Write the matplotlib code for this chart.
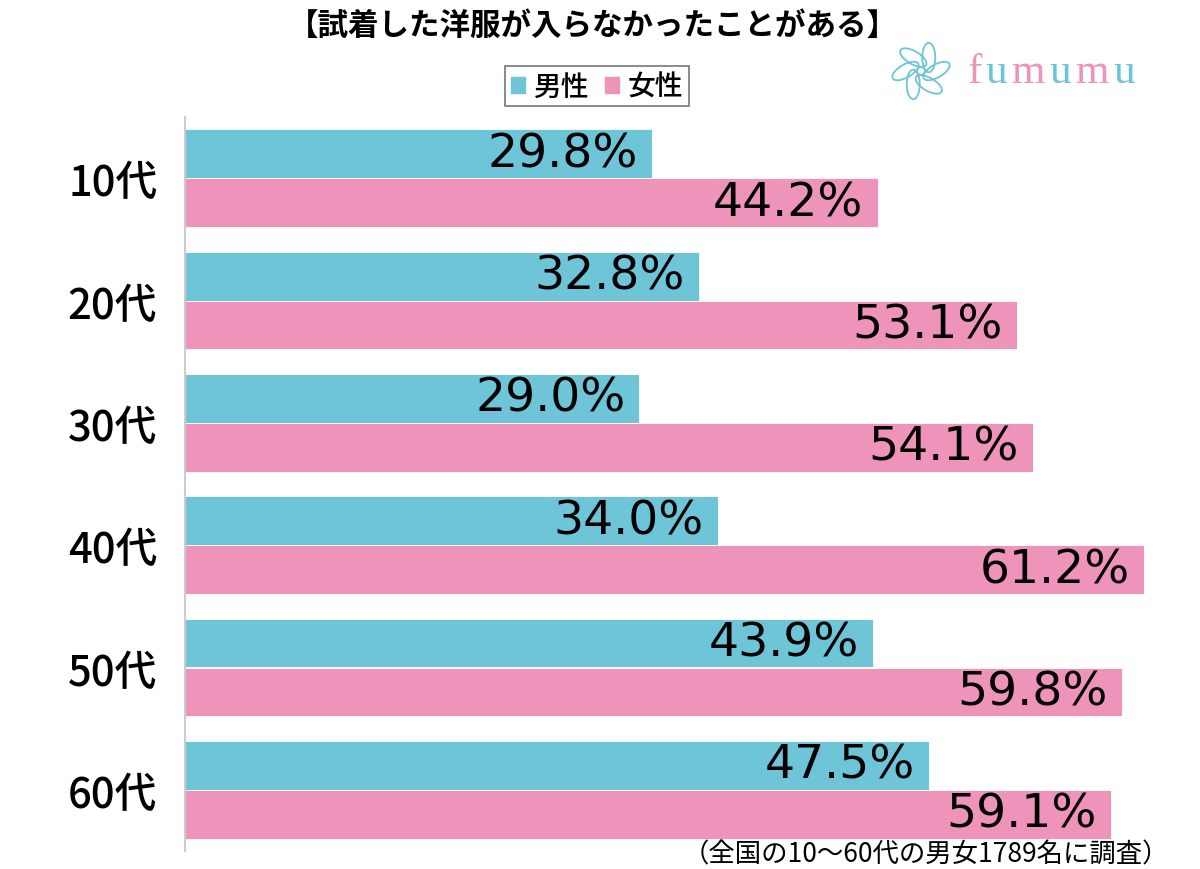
import numpy as np
import matplotlib.pyplot as plt
from matplotlib.patches import Ellipse

plt.rcParams['font.family'] = ['Noto Sans CJK JP', 'DejaVu Sans']

ages = ['10代', '20代', '30代', '40代', '50代', '60代']
male = [29.8, 32.8, 29.0, 34.0, 43.9, 47.5]
female = [44.2, 53.1, 54.1, 61.2, 59.8, 59.1]

title = '【試着した洋服が入らなかったことがある】'
note = '（全国の10〜60代の男女1789名に調査）'

teal = '#6EC5D8'
pink = '#EE93B9'

fig = plt.figure(figsize=(12, 8.7), dpi=100)
ax = fig.add_axes([185 / 1200, 1 - 852 / 870, 1000 / 1200, (852 - 118) / 870])

y = np.arange(len(ages))
h = 0.4
ax.barh(y - h / 2, male, height=h, color=teal, edgecolor='white', linewidth=0.6)
ax.barh(y + h / 2, female, height=h, color=pink, edgecolor='white', linewidth=0.6)

for i in range(len(ages)):
    ax.text(male[i] - 0.9, y[i] - h / 2, f'{male[i]:.1f}%', ha='right', va='center',
            fontsize=34, color='black', family='DejaVu Sans')
    ax.text(female[i] - 0.9, y[i] + h / 2, f'{female[i]:.1f}%', ha='right', va='center',
            fontsize=34, color='black', family='DejaVu Sans')

ax.set_xlim(0, 1000 / 15.67)
ax.set_ylim(5.5, -0.5)
ax.set_yticks(y)
ax.set_yticklabels(ages, fontsize=30, fontweight='medium')
ax.tick_params(axis='y', length=0, pad=20)
ax.set_xticks([])
for s in ['top', 'right', 'bottom']:
    ax.spines[s].set_visible(False)
ax.spines['left'].set_color('#cccccc')
ax.spines['left'].set_linewidth(1.5)

fig.text(593 / 1200, 1 - 26 / 870, title, ha='center', va='center', fontsize=22, fontweight='bold')

# legend
leg = fig.legend(handles=[plt.Rectangle((0, 0), 1, 1, color=teal),
                          plt.Rectangle((0, 0), 1, 1, color=pink)],
                 labels=['男性', '女性'], loc='center', bbox_to_anchor=(597 / 1200, 1 - 87 / 870),
                 ncol=2, fontsize=20, frameon=True, fancybox=False, edgecolor='#555555',
                 handlelength=0.5, handleheight=0.5, handletextpad=0.3, columnspacing=0.6,
                 borderpad=0.2, borderaxespad=0)
for t in leg.get_texts():
    t.set_fontweight('medium')
leg.get_frame().set_linewidth(1.2)

fig.text(1169 / 1200, 1 - 855 / 870, note, ha='right', va='center', fontsize=19)

# fumumu logo
lx, ly = 968 / 1200, 1 - 73 / 870
cols = [pink, teal, pink, teal, pink, teal]
xpos = lx
for ch, c in zip('fumumu', cols):
    fig.text(xpos, ly, ch, ha='left', va='center', fontsize=31, color=c,
             family='Liberation Serif')
    xpos += {'f': 0.0145, 'u': 0.0215, 'm': 0.032}[ch]
logo = fig.add_axes([890 / 1200, 1 - 103 / 870, 62 / 1200, 62 / 870])
logo.set_xlim(-1, 1)
logo.set_ylim(-1, 1)
logo.axis('off')
for k in range(6):
    a = k * 60
    r = np.deg2rad(a)
    logo.add_patch(Ellipse((0.5 * np.cos(r), 0.5 * np.sin(r)), 0.95, 0.42, angle=a + 30,
                           fill=False, edgecolor=teal, linewidth=1.3))
logo.add_patch(Ellipse((0, 0), 0.25, 0.25, fill=False, edgecolor=teal, linewidth=1.2))

fig.savefig('out.png', dpi=100)
